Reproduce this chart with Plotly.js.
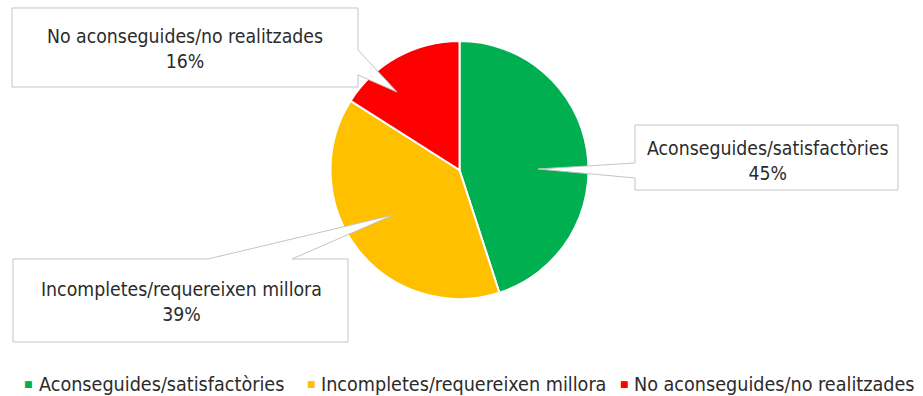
<!DOCTYPE html>
<html>
<head>
<meta charset="utf-8">
<script src="https://cdn.plot.ly/plotly-3.0.1.min.js"></script>
<style>html,body{margin:0;padding:0;background:#fff;}#chart{width:923px;height:396px;}</style>
</head>
<body>
<div id="chart"></div>
<script>
// ---- data ----
const categories = ["Aconseguides/satisfactòries", "Incompletes/requereixen millora", "No aconseguides/no realitzades"];
const values = [45, 39, 16];
const colors = ["#00B050", "#FFC000", "#FF0000"];

// ---- layout helpers (pixel -> paper) ----
const W = 923, H = 396;
const px = x => x / W;
const py = y => 1 - y / H;
const FONT = "DejaVu Sans Condensed, DejaVu Sans, sans-serif";
const TXT = "#2b2b2b";
const FS = 19.3;
const FS_LEG = 19.6;

function pathFromPts(pts) {
  return "M" + pts.map(p => px(p[0]).toFixed(5) + "," + py(p[1]).toFixed(5)).join(" L") + " Z";
}

// callout boxes (box + pointer), in pixel positions
const callouts = [
  { // Aconseguides
    pts: [[635,125],[898,125],[898,190],[635,190],[635,178],[538,169],[635,163]],
    cx: 767, cy: 161
  },
  { // Incompletes
    pts: [[13,259],[208,259],[393,215],[292,259],[348,259],[348,342],[13,342]],
    cx: 181, cy: 302
  },
  { // No aconseguides
    pts: [[12,8],[358,8],[358,50],[397,92],[358,75],[358,87],[12,87]],
    cx: 185, cy: 49
  }
];

const total = values.reduce((a,b)=>a+b,0);
const shapes = callouts.map(c => ({
  type: "path", xref: "paper", yref: "paper",
  path: pathFromPts(c.pts),
  fillcolor: "#ffffff",
  line: { color: "#c4c4c4", width: 1 },
  layer: "above"
}));

const annotations = [];
callouts.forEach((c, i) => {
  annotations.push({
    xref: "paper", yref: "paper", x: px(c.cx), y: py(c.cy),
    xanchor: "center", yanchor: "middle", showarrow: false,
    text: categories[i] + "<br>" + Math.round(values[i] / total * 100) + "%",
    font: { family: FONT, size: FS, color: TXT }, align: "center"
  });
});

// custom legend
const legMarkX = [29, 311, 624];
const legTextX = [37, 319, 632];
const legY = 384;
categories.forEach((cat, i) => {
  annotations.push({
    xref: "paper", yref: "paper", x: px(legMarkX[i]), y: py(legY),
    xanchor: "center", yanchor: "middle", showarrow: false,
    text: "■", font: { family: "DejaVu Sans", size: 9, color: colors[i] }
  });
  annotations.push({
    xref: "paper", yref: "paper", x: px(legTextX[i]), y: py(legY),
    xanchor: "left", yanchor: "middle", showarrow: false,
    text: cat, font: { family: FONT, size: FS_LEG, color: TXT }
  });
});

const trace = {
  type: "pie",
  labels: categories,
  values: values,
  marker: { colors: colors, line: { color: "#ffffff", width: 2 } },
  sort: false,
  direction: "clockwise",
  rotation: 0,
  textinfo: "none",
  hoverinfo: "none",
  showlegend: false,
  domain: { x: [px(330), px(589)], y: [py(299), py(41)] }
};

const layout = {
  width: W, height: H,
  margin: { l: 0, r: 0, t: 0, b: 0 },
  paper_bgcolor: "#ffffff",
  showlegend: false,
  shapes: shapes,
  annotations: annotations,
  font: { family: FONT, color: TXT }
};

Plotly.newPlot("chart", [trace], layout, { staticPlot: true });
</script>
</body>
</html>
